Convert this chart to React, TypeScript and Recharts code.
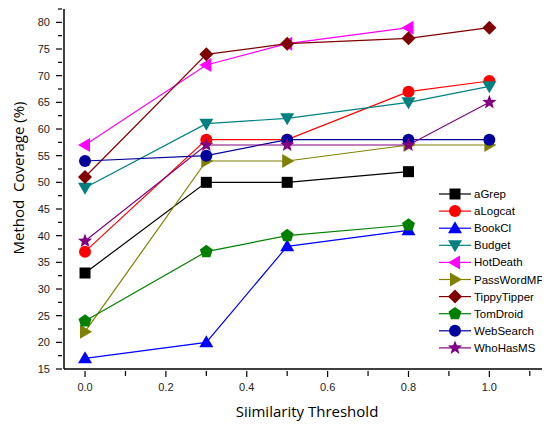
import React from "react";
import { Line, LineChart, XAxis, YAxis } from "recharts";

const thresholds = [0, 0.3, 0.5, 0.8, 1.0];
const aGrep = [33, 50, 50, 52, null];
const aLogcat = [37, 58, 58, 67, 69];
const bookCl = [17, 20, 38, 41, null];
const budget = [49, 61, 62, 65, 68];
const hotDeath = [57, 72, 76, 79, null];
const passWordMP = [22, 54, 54, 57, 57];
const tippyTipper = [51, 74, 76, 77, 79];
const tomDroid = [24, 37, 40, 42, null];
const webSearch = [54, 55, 58, 58, 58];
const whoHasMS = [39, 57, 57, 57, 65];

const xTicks = [0, 0.1, 0.2, 0.3, 0.4, 0.5, 0.6, 0.7, 0.8, 0.9, 1.0, 1.1];
const yTicks = [15, 17.5, 20, 22.5, 25, 27.5, 30, 32.5, 35, 37.5, 40, 42.5, 45, 47.5, 50, 52.5, 55, 57.5, 60, 62.5, 65, 67.5, 70, 72.5, 75, 77.5, 80, 82.5];

type Shape = "square" | "circle" | "up" | "down" | "left" | "right" | "diamond" | "pentagon" | "star";

const series: { name: string; values: (number | null)[]; color: string; shape: Shape }[] = [
  { name: "aGrep", values: aGrep, color: "#000000", shape: "square" },
  { name: "aLogcat", values: aLogcat, color: "#FF0000", shape: "circle" },
  { name: "BookCl", values: bookCl, color: "#0000FF", shape: "up" },
  { name: "Budget", values: budget, color: "#008080", shape: "down" },
  { name: "HotDeath", values: hotDeath, color: "#FF00FF", shape: "left" },
  { name: "PassWordMP", values: passWordMP, color: "#808000", shape: "right" },
  { name: "TippyTipper", values: tippyTipper, color: "#800000", shape: "diamond" },
  { name: "TomDroid", values: tomDroid, color: "#008000", shape: "pentagon" },
  { name: "WebSearch", values: webSearch, color: "#00009C", shape: "circle" },
  { name: "WhoHasMS", values: whoHasMS, color: "#800080", shape: "star" },
];

const data = thresholds.map((x, i) => {
  const row: Record<string, number | null> = { x };
  series.forEach((s) => (row[s.name] = s.values[i]));
  return row;
});

function polygon(cx: number, cy: number, n: number, r: number, r2?: number) {
  const pts: string[] = [];
  const count = r2 ? n * 2 : n;
  for (let i = 0; i < count; i++) {
    const a = -Math.PI / 2 + (i * 2 * Math.PI) / count;
    const rr = r2 && i % 2 === 1 ? r2 : r;
    pts.push(`${cx + rr * Math.cos(a)},${cy + rr * Math.sin(a)}`);
  }
  return pts.join(" ");
}

function Marker({ shape, cx, cy, color }: { shape: Shape; cx: number; cy: number; color: string }) {
  switch (shape) {
    case "square":
      return <rect x={cx - 5.5} y={cy - 5.5} width={11} height={11} fill={color} />;
    case "circle":
      return <circle cx={cx} cy={cy} r={6} fill={color} />;
    case "up":
      return <polygon points={`${cx},${cy - 7} ${cx + 7},${cy + 5} ${cx - 7},${cy + 5}`} fill={color} />;
    case "down":
      return <polygon points={`${cx},${cy + 7} ${cx + 7},${cy - 5} ${cx - 7},${cy - 5}`} fill={color} />;
    case "left":
      return <polygon points={`${cx - 7},${cy} ${cx + 5},${cy - 7} ${cx + 5},${cy + 7}`} fill={color} />;
    case "right":
      return <polygon points={`${cx + 7},${cy} ${cx - 5},${cy - 7} ${cx - 5},${cy + 7}`} fill={color} />;
    case "diamond":
      return <polygon points={`${cx},${cy - 7} ${cx + 7},${cy} ${cx},${cy + 7} ${cx - 7},${cy}`} fill={color} />;
    case "pentagon":
      return <polygon points={polygon(cx, cy, 5, 6.8)} fill={color} />;
    case "star":
      return <polygon points={polygon(cx, cy, 5, 7.5, 3.2)} fill={color} />;
  }
}

const XTick = (props: any) => {
  const { x, y, payload } = props;
  const major = Math.round(payload.value * 10) % 2 === 0;
  return (
    <g>
      <line x1={x} x2={x} y1={y} y2={y + (major ? 6 : 5)} stroke="#000" strokeWidth={1.2} />
      {major && (
        <text x={x} y={y + 20} textAnchor="middle" fontSize={11} fontFamily="Liberation Sans, Arial" fill="#222">
          {payload.value.toFixed(1)}
        </text>
      )}
    </g>
  );
};

const YTick = (props: any) => {
  const { x, y, payload } = props;
  const major = payload.value % 5 === 0;
  return (
    <g>
      <line x1={x} x2={x - (major ? 6 : 4)} y1={y} y2={y} stroke="#000" strokeWidth={1.2} />
      {major && (
        <text x={x - 12} y={y + 4} textAnchor="end" fontSize={11} fontFamily="Liberation Sans, Arial" fill="#222">
          {payload.value}
        </text>
      )}
    </g>
  );
};

const LegendBox = () => (
  <svg width={112} height={172}>
    {series.map((s, i) => {
      const y = 8 + i * 17.1;
      return (
        <g key={s.name}>
          <line x1={3} x2={35} y1={y} y2={y} stroke={s.color} strokeWidth={1.2} />
          <Marker shape={s.shape} cx={19} cy={y} color={s.color} />
          <text x={38} y={y + 4} fontSize={11.5} fontFamily="Liberation Sans, Arial" fill="#000">
            {s.name}
          </text>
        </g>
      );
    })}
  </svg>
);

export default function App() {
  return (
    <div style={{ position: "relative", width: 542, height: 416 }}>
      <LineChart width={542} height={416} data={data} margin={{ top: 1, right: 0, bottom: 25, left: 0 }}>
        <XAxis
          type="number"
          dataKey="x"
          domain={[-0.052, 1.15]}
          ticks={xTicks}
          interval={0}
          tickSize={0}
          tickLine={false}
          tick={XTick}
          axisLine={{ stroke: "#000", strokeWidth: 1.5 }}
          height={30}
          allowDataOverflow
        />
        <YAxis
          type="number"
          domain={[15, 82.5]}
          ticks={yTicks}
          interval={0}
          tickSize={0}
          tickLine={false}
          tick={YTick}
          axisLine={{ stroke: "#000", strokeWidth: 1.5 }}
          width={56}
          allowDataOverflow
        />
        {series.map((s) => (
          <Line
            key={s.name}
            dataKey={s.name}
            stroke={s.color}
            strokeWidth={1.2}
            isAnimationActive={false}
            connectNulls={false}
            activeDot={false}
            dot={(p: any) =>
              p.cy == null ? (
                <g key={`${s.name}-${p.index}`} />
              ) : (
                <g key={`${s.name}-${p.index}`}>
                  <Marker shape={s.shape} cx={p.cx} cy={p.cy} color={s.color} />
                </g>
              )
            }
          />
        ))}
      </LineChart>
      <div style={{ position: "absolute", left: 428, top: 178 }}>
        <LegendBox />
      </div>
      <div
        style={{
          position: "absolute",
          left: 10,
          top: 170,
          transform: "translate(-50%, -50%) rotate(-90deg)",
          whiteSpace: "nowrap",
          fontFamily: "Open Sans, sans-serif",
          fontSize: 15,
        }}
      >
        Method&nbsp;&nbsp;Coverage (%)
      </div>
      <div
        style={{
          position: "absolute",
          left: 299,
          top: 403,
          transform: "translate(-50%, -50%)",
          whiteSpace: "nowrap",
          fontFamily: "Open Sans, sans-serif",
          fontSize: 15,
        }}
      >
        Siimilarity Threshold
      </div>
    </div>
  );
}
